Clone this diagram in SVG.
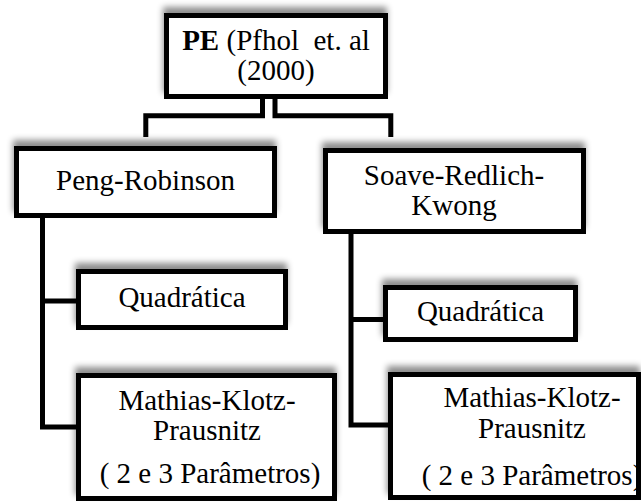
<svg xmlns="http://www.w3.org/2000/svg" width="641" height="502" viewBox="0 0 641 502">
<defs>
<filter id="sh" x="-10%" y="-30%" width="120%" height="150%">
<feDropShadow dx="-1" dy="-6" stdDeviation="3" flood-color="#000" flood-opacity="0.45"/>
</filter>
</defs>
<style>
.box{fill:#fff;stroke:#000;stroke-width:5;filter:url(#sh)}
.c{fill:none;stroke:#000;stroke-width:5;stroke-linejoin:miter}
</style>
<rect width="641" height="502" fill="#fff"/>
<g id="connectors">
<path class="c" d="M262.5,99 V115.8 H145.8 V137"/>
<path class="c" d="M275,99 V115.8 H390.8 V137"/>
<path class="c" d="M42.5,218 V427 H77"/>
<path class="c" d="M42.5,301 H77"/>
<path class="c" d="M351,234 V425 H389"/>
<path class="c" d="M351,319.5 H384"/>
</g>
<g font-family="Liberation Serif, serif" font-size="29" fill="#000" text-anchor="middle">
<g id="pe">
<rect class="box" x="166.5" y="15.5" width="219" height="81"/>
<text x="276" y="50"><tspan font-weight="bold">PE</tspan> (Pfhol&#160; et. al</text>
<text x="276" y="80">(2000)</text>
</g>
<g id="peng-robinson">
<rect class="box" x="16.5" y="148.5" width="258" height="67"/>
<text x="145.5" y="190">Peng-Robinson</text>
</g>
<g id="soave">
<rect class="box" x="325.5" y="150.5" width="258" height="81"/>
<text x="454" y="184.5">Soave-Redlich-</text>
<text x="454" y="214.5">Kwong</text>
</g>
<g id="quad-left">
<rect class="box" x="78.5" y="271.5" width="207" height="56"/>
<text x="182" y="307">Quadrática</text>
</g>
<g id="quad-right">
<rect class="box" x="385.5" y="287.5" width="190" height="52"/>
<text x="480.5" y="321">Quadrática</text>
</g>
<g id="mkp-left">
<rect class="box" x="78.5" y="375.5" width="256" height="123"/>
<text x="207" y="410">Mathias-Klotz-</text>
<text x="207" y="440">Prausnitz</text>
<text x="210" y="483">( 2 e 3 Parâmetros)</text>
</g>
<g id="mkp-right">
<rect class="box" x="390.5" y="374.5" width="248" height="123"/>
<text x="532" y="407">Mathias-Klotz-</text>
<text x="532" y="438">Prausnitz</text>
<text x="532" y="485">( 2 e 3 Parâmetros)</text>
</g>
</g>
</svg>
